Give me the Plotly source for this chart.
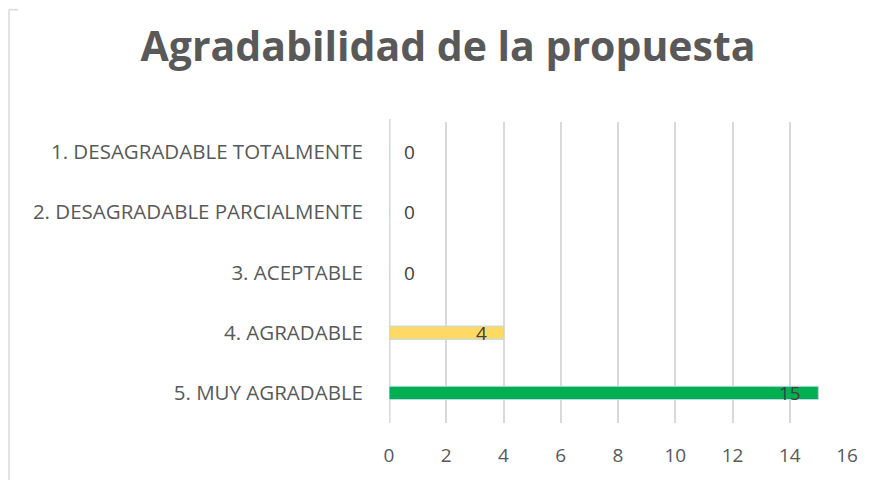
import plotly.graph_objects as go

categories = ["1. DESAGRADABLE TOTALMENTE", "2. DESAGRADABLE PARCIALMENTE", "3. ACEPTABLE",
              "4. AGRADABLE", "5. MUY AGRADABLE"]
values = [0, 0, 0, 4, 15]
bar_colors = ["#00B050", "#00B050", "#00B050", "#FFD966", "#00B050"]
x_ticks = [0, 2, 4, 6, 8, 10, 12, 14, 16]
title_text = "Agradabilidad de la propuesta"

# The page body has an 8px margin; the figure is sized so that it fills the window.
OFF = 8
W, H = 876 - OFF, 480 - OFF
# plot area in window pixels: x 389..847, y 122..426
L = 389 - OFF
T = 122 - OFF
R = W - (847 - OFF)
B = H - (426 - OFF)
FONT = "Open Sans"
GREY = "#595959"

fig = go.Figure()
fig.add_trace(go.Bar(
    y=categories, x=values, orientation="h",
    marker=dict(color=bar_colors, line=dict(color="#BDD7EE", width=1)),
    width=0.22, hoverinfo="x+y",
))

annotations = []
for c, v in zip(categories, values):
    if v == 0:
        annotations.append(dict(x=v, y=c, xref="x", yref="y", text=str(v), showarrow=False,
                                xanchor="left", xshift=13, font=dict(family=FONT, size=19, color="#404040")))
    else:
        annotations.append(dict(x=v, y=c, xref="x", yref="y", text=str(v), showarrow=False,
                                xanchor="right", xshift=-15, font=dict(family=FONT, size=19, color="#404040")))

pw = W - L - R
ph = H - T - B
def px_x(p):
    return (p - OFF - L) / pw
def px_y(p):
    return 1 - (p - OFF - T) / ph

shapes = [
    dict(type="line", xref="paper", yref="paper", x0=px_x(9), x1=px_x(9), y0=px_y(8.5), y1=px_y(485),
         line=dict(color="#D9D9D9", width=1.5)),
    dict(type="line", xref="paper", yref="paper", x0=px_x(9), x1=px_x(18), y0=px_y(8.5), y1=px_y(8.5),
         line=dict(color="#D9D9D9", width=1.5)),
    dict(type="line", xref="x", yref="paper", x0=0, x1=0, y0=px_y(119), y1=0,
         line=dict(color="#D9D9D9", width=3), layer="below"),
]

fig.update_layout(
    width=W, height=H,
    margin=dict(l=L, r=R, t=T, b=B, pad=0),
    paper_bgcolor="white", plot_bgcolor="white",
    showlegend=False,
    title=dict(text="<b>" + title_text + "</b>", x=(448 - OFF) / W, xanchor="center",
               y=1 - (47 - OFF) / H, yanchor="middle",
               font=dict(family=FONT, size=41, color=GREY)),
    xaxis=dict(range=[0, 16], tickvals=x_ticks, ticktext=[str(t) for t in x_ticks],
               showgrid=True, gridcolor="#D9D9D9", gridwidth=1.5, zeroline=False,
               showline=False, ticks="", tickfont=dict(family=FONT, size=19, color=GREY),
               ticklabelstandoff=19, fixedrange=True),
    yaxis=dict(categoryorder="array", categoryarray=categories[::-1], autorange=False,
               range=[-0.5, 4.5], showgrid=False, zeroline=False,
               showline=False, ticks="", ticklabelstandoff=25,
               tickfont=dict(family=FONT, size=20.5, color=GREY), fixedrange=True),
    annotations=annotations,
    shapes=shapes,
)

fig.write_html("out.html")
